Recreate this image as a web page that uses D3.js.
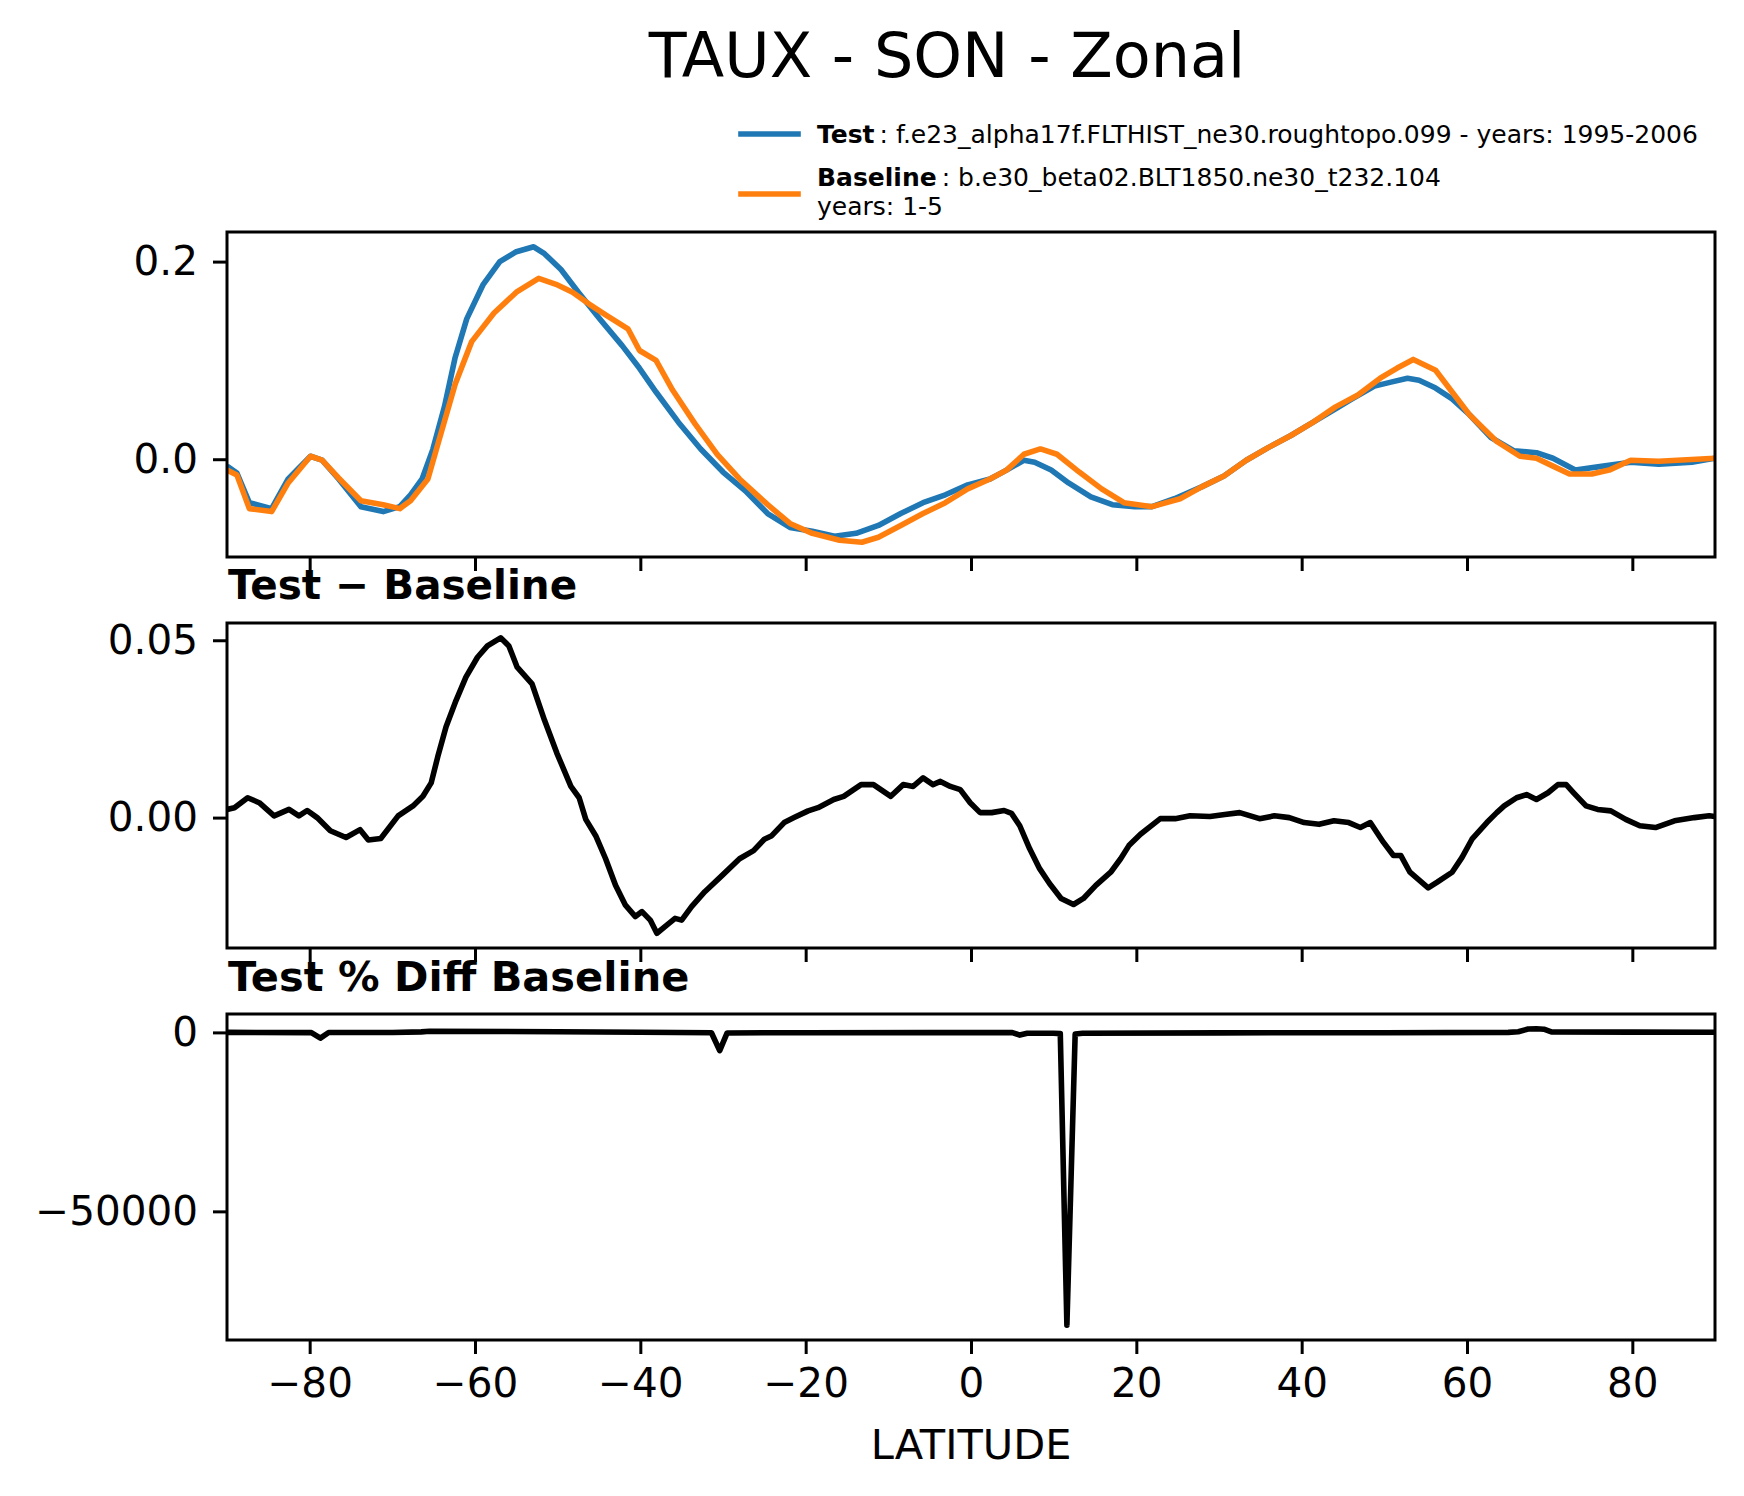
<!DOCTYPE html>
<html>
<head>
<meta charset="utf-8">
<script src="https://cdnjs.cloudflare.com/ajax/libs/d3/7.8.5/d3.min.js"></script>
<style>
body { margin: 0; background: #fff; }
svg { display: block; font-family: "DejaVu Sans", sans-serif; }
</style>
</head>
<body>
<script>
var width = 1744, height = 1496;

// zonal mean TAUX
var testLat = [-90, -88.8, -87.3, -84.6, -82.6, -79.9, -78.5, -76.5, -73.8, -71.1, -69.1, -67.8, -66.4, -65.1,
  -63.7, -62.4, -61.0, -59.0, -57.0, -55.0, -52.9, -51.6, -49.6, -47.5, -44.9, -42.2, -40.1, -38.1, -35.4,
  -32.7, -30.0, -27.3, -24.6, -21.9, -19.2, -16.5, -13.9, -11.2, -8.5, -5.8, -3.1, -0.4, 2.3, 4.3, 6.4, 7.7,
  9.7, 11.8, 14.5, 17.1, 19.8, 21.9, 24.6, 27.9, 30.6, 33.3, 36.0, 38.7, 41.4, 44.1, 46.1, 48.8, 50.8, 52.8,
  54.2, 56.2, 58.2, 60.3, 62.9, 65.7, 68.4, 70.4, 73.1, 76.5, 79.8, 83.2, 87.2, 90];
var testTaux = [-0.007, -0.014, -0.044, -0.050, -0.020, 0.003, -0.001, -0.020, -0.048, -0.053, -0.048, -0.036, -0.020, 0.010,
  0.053, 0.103, 0.142, 0.177, 0.200, 0.210, 0.215, 0.208, 0.192, 0.169, 0.142, 0.115, 0.092, 0.068, 0.0375,
  0.0104, -0.013, -0.032, -0.055, -0.069, -0.073, -0.078, -0.075, -0.067, -0.055, -0.044, -0.036, -0.026, -0.020, -0.011, -0.001, -0.003,
  -0.011, -0.024, -0.038, -0.046, -0.048, -0.048, -0.040, -0.028, -0.017, -0.001, 0.012, 0.024, 0.0375, 0.051, 0.061, 0.074, 0.078, 0.082,
  0.080, 0.072, 0.061, 0.045, 0.022, 0.0085, 0.0066, 0.001, -0.011, -0.007, -0.003, -0.005, -0.003, 0.001];

var baseLat = [-90, -88.8, -87.3, -84.6, -82.6, -79.9, -78.5, -76.5, -73.8, -71.1, -69.1, -67.8, -65.7, -64.4,
  -62.4, -60.4, -57.7, -55.0, -52.3, -50.2, -48.2, -46.2, -44.2, -41.5, -40.1, -38.1, -36.1, -33.4, -30.7,
  -28.0, -24.6, -21.9, -19.2, -15.9, -13.2, -11.2, -8.5, -5.8, -3.1, -0.4, 2.3, 4.3, 6.4, 8.4, 10.4, 13.1,
  15.8, 18.5, 21.9, 25.3, 27.9, 30.6, 33.3, 36.0, 38.7, 41.4, 44.1, 46.8, 49.5, 51.5, 53.5, 56.2, 58.2, 60.3,
  63.6, 66.4, 68.4, 70.4, 72.4, 75.1, 77.2, 79.8, 83.2, 90];
var baseTaux = [-0.011, -0.016, -0.050, -0.053, -0.024, 0.003, -0.001, -0.019, -0.042, -0.046, -0.050, -0.042, -0.020, 0.018,
  0.076, 0.119, 0.148, 0.169, 0.183, 0.177, 0.169, 0.157, 0.146, 0.132, 0.110, 0.100, 0.070, 0.036, 0.005,
  -0.020, -0.046, -0.065, -0.075, -0.082, -0.084, -0.079, -0.067, -0.055, -0.044, -0.030, -0.020, -0.011, 0.005, 0.0104, 0.005, -0.013,
  -0.030, -0.044, -0.048, -0.040, -0.028, -0.017, -0.001, 0.012, 0.024, 0.0375, 0.053, 0.065, 0.082, 0.092, 0.101, 0.090, 0.068, 0.045,
  0.018, 0.003, 0.001, -0.007, -0.015, -0.015, -0.011, -0.001, -0.002, 0.001];

// Test - Baseline
var diffLat = [-90, -89.1, -87.5, -86.1, -84.3, -82.5, -81.3, -80.3, -79.1, -77.5, -75.6, -73.9, -72.9, -71.4,
  -69.3, -67.5, -66.3, -65.3, -64.5, -63.5, -62.3, -61.1, -59.7, -58.5, -56.9, -55.9, -54.9, -53.1, -51.6,
  -50.1, -48.4, -47.4, -46.6, -45.4, -44.2, -43.0, -41.8, -40.6, -39.8, -38.8, -38.0, -36.8, -35.8, -35.0,
  -33.8, -32.2, -30.1, -28.0, -26.3, -25.0, -24.1, -22.6, -21.4, -19.7, -18.5, -16.6, -15.4, -13.3, -11.8,
  -9.7, -8.2, -7.0, -5.8, -4.6, -3.7, -2.5, -1.3, -0.1, 1.1, 2.5, 4.0, 4.9, 5.9, 7.1, 8.3, 9.5, 10.9, 12.4,
  13.6, 15.1, 16.9, 18.1, 19.1, 20.5, 22.9, 24.7, 26.5, 28.9, 30.7, 32.5, 34.9, 36.7, 38.5, 40.3, 42.1, 43.9,
  45.7, 47.1, 48.3, 49.9, 51.1, 52.0, 53.1, 55.3, 56.4, 58.2, 59.4, 60.6, 62.4, 63.6, 64.5, 66.0, 67.2, 68.4,
  69.8, 71.0, 72.0, 72.9, 74.4, 75.8, 77.4, 79.2, 80.9, 82.8, 85.1, 87.5, 89.3, 90];
var diffTaux = [0.0023, 0.0028, 0.0056, 0.0042, 0.0005, 0.0023, 0.0005, 0.0020, 0.0000, -0.0037, -0.0056, -0.0034, -0.0063, -0.0059,
  0.0005, 0.0033, 0.0060, 0.0098, 0.0172, 0.0256, 0.0330, 0.0396, 0.0452, 0.0484, 0.0507, 0.0484, 0.0424, 0.0377, 0.0275,
  0.0182, 0.0088, 0.0056, -0.0005, -0.0051, -0.0116, -0.0191, -0.0247, -0.0279, -0.0265, -0.0289, -0.0326, -0.0303, -0.0284, -0.0289,
  -0.0251, -0.0209, -0.0163, -0.0116, -0.0093, -0.0061, -0.0051, -0.0014, 0.0000, 0.0019, 0.0028, 0.0051, 0.0060, 0.0093, 0.0093,
  0.0060, 0.0093, 0.0088, 0.0112, 0.0093, 0.0102, 0.0088, 0.0079, 0.0042, 0.0014, 0.0014, 0.0020, 0.0012, -0.0023, -0.0088, -0.0144, -0.0186, -0.0228, -0.0245,
  -0.0228, -0.0191, -0.0154, -0.0116, -0.0079, -0.0047, -0.0003, -0.0003, 0.0005, 0.0003, 0.0009, 0.0014, -0.0003, 0.0005, 0.0000, -0.0014, -0.0019, -0.0009,
  -0.0014, -0.0028, -0.0014, -0.0070, -0.0107, -0.0107, -0.0154, -0.0198, -0.0182, -0.0154, -0.0112, -0.0061, -0.0014, 0.0014, 0.0033, 0.0056, 0.0065, 0.0051,
  0.0070, 0.0093, 0.0093, 0.0070, 0.0033, 0.0023, 0.0019, -0.0005, -0.0023, -0.0028, -0.0009, 0.0000, 0.0005, 0.0003];

// Test % Diff Baseline
var pctLat = [-90, -80, -79.8, -78.7, -77.7, -70, -66.5, -65.5, -50, -40, -31.4, -30.4, -29.5, -20, -5, 5.0, 5.9,
  6.8, 10.0, 10.8, 11.6, 12.6, 13.5, 30, 50, 65.0, 66.2, 67.4, 68.4, 69.3, 70.2, 80, 90];
var pctTaux = [0, -50, -60, -1600, -40, -30, 150, 300, 200, 50, -100, -5100, -150, -80, -60, -50, -750,
  -250, -250, -350, -81800, -450, -250, -120, -80, 0, 200, 950, 1000, 900, 150, 80, 50];

var xTicks = [-80, -60, -40, -20, 0, 20, 40, 60, 80];

var svg = d3.select("body").append("svg")
  .attr("width", width)
  .attr("height", height);

svg.append("rect").attr("width", width).attr("height", height).attr("fill", "#fff");

var x = d3.scaleLinear().domain([-90, 90]).range([227, 1715]);

// matplotlib style 5% margins
function padded(vals) {
  var ext = d3.extent(vals);
  var m = (ext[1] - ext[0]) * 0.05;
  return [ext[0] - m, ext[1] + m];
}

function drawPanel(id, top, bottom, series, yTicks, fmt, showXLabels) {
  var allVals = [];
  series.forEach(function(s) { allVals = allVals.concat(s.values); });
  var y = d3.scaleLinear().domain(padded(allVals)).range([bottom, top]);

  var g = svg.append("g");

  g.append("clipPath").attr("id", id)
    .append("rect")
    .attr("x", x.range()[0]).attr("y", top)
    .attr("width", x.range()[1] - x.range()[0]).attr("height", bottom - top);

  var line = d3.line()
    .x(function(d) { return x(d[0]); })
    .y(function(d) { return y(d[1]); });

  series.forEach(function(s) {
    g.append("path")
      .datum(d3.zip(s.lat, s.values))
      .attr("clip-path", "url(#" + id + ")")
      .attr("fill", "none")
      .attr("stroke", s.color)
      .attr("stroke-width", 5.6)
      .attr("stroke-linejoin", "round")
      .attr("d", line);
  });

  var yAxis = g.append("g")
    .attr("transform", "translate(" + x.range()[0] + ",0)")
    .call(d3.axisLeft(y).tickValues(yTicks).tickFormat(fmt).tickSize(14).tickPadding(15).tickSizeOuter(0));
  yAxis.select(".domain").remove();

  var xAxis = g.append("g")
    .attr("transform", "translate(0," + bottom + ")")
    .call(d3.axisBottom(x).tickValues(xTicks).tickSize(14).tickPadding(14).tickSizeOuter(0)
      .tickFormat(showXLabels ? d3.format("d") : ""));
  xAxis.select(".domain").remove();

  g.selectAll(".tick line").attr("stroke", "#000").attr("stroke-width", 3);
  g.selectAll(".tick text")
    .attr("fill", "#000")
    .attr("font-size", 40.5)
    .attr("font-family", "DejaVu Sans, sans-serif");

  g.append("rect")
    .attr("x", x.range()[0]).attr("y", top)
    .attr("width", x.range()[1] - x.range()[0]).attr("height", bottom - top)
    .attr("fill", "none")
    .attr("stroke", "#000")
    .attr("stroke-width", 3);

  return y;
}

drawPanel("clipTop", 232, 557, [
  { lat: testLat, values: testTaux, color: "#1f77b4" },
  { lat: baseLat, values: baseTaux, color: "#ff7f0e" }
], [0, 0.2], d3.format(".1f"), false);

drawPanel("clipDiff", 623, 948, [
  { lat: diffLat, values: diffTaux, color: "#000" }
], [0, 0.05], d3.format(".2f"), false);

drawPanel("clipPct", 1014, 1340, [
  { lat: pctLat, values: pctTaux, color: "#000" }
], [-50000, 0], d3.format("d"), true);

// titles
svg.append("text")
  .attr("x", 947).attr("y", 77)
  .attr("text-anchor", "middle")
  .attr("font-size", 62)
  .text("TAUX - SON - Zonal");

svg.append("text")
  .attr("x", 228).attr("y", 599)
  .attr("font-size", 40.5).attr("font-weight", "bold")
  .text("Test \u2212 Baseline");

svg.append("text")
  .attr("x", 228).attr("y", 991)
  .attr("font-size", 41.5).attr("font-weight", "bold")
  .text("Test % Diff Baseline");

svg.append("text")
  .attr("x", 971).attr("y", 1459)
  .attr("text-anchor", "middle")
  .attr("font-size", 41.5)
  .text("LATITUDE");

// legend
var legend = svg.append("g");
legend.append("line")
  .attr("x1", 741).attr("x2", 798).attr("y1", 134).attr("y2", 134)
  .attr("stroke", "#1f77b4").attr("stroke-width", 5.6).attr("stroke-linecap", "square");
legend.append("line")
  .attr("x1", 741).attr("x2", 798).attr("y1", 194).attr("y2", 194)
  .attr("stroke", "#ff7f0e").attr("stroke-width", 5.6).attr("stroke-linecap", "square");

var t1 = legend.append("text").attr("x", 817).attr("y", 143).attr("font-size", 25);
t1.append("tspan").attr("font-weight", "bold").text("Test");
t1.append("tspan").text("\u2009: f.e23_alpha17f.FLTHIST_ne30.roughtopo.099 - years: 1995-2006");

var t2 = legend.append("text").attr("x", 817).attr("y", 186).attr("font-size", 25);
t2.append("tspan").attr("font-weight", "bold").text("Baseline");
t2.append("tspan").text("\u2009: b.e30_beta02.BLT1850.ne30_t232.104");
legend.append("text").attr("x", 817).attr("y", 215).attr("font-size", 25).text("years: 1-5");
</script>
</body>
</html>
